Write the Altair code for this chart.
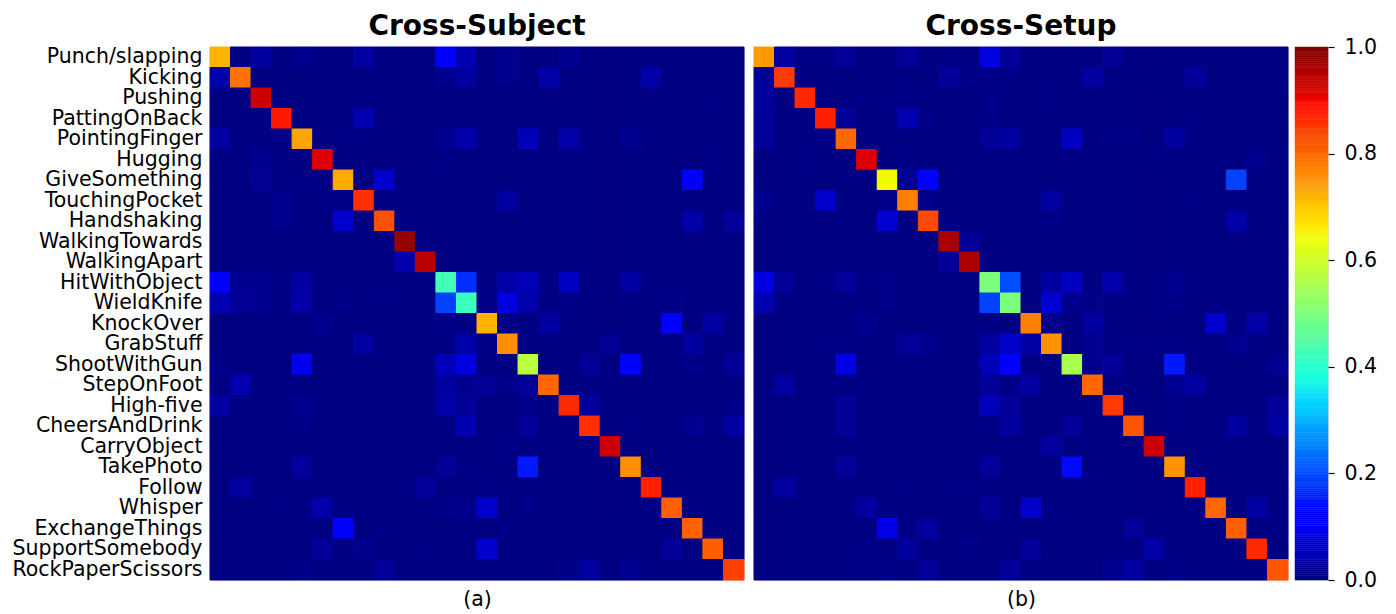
import altair as alt
import numpy as np
import pandas as pd

LABELS = ["Punch/slapping", "Kicking", "Pushing", "PattingOnBack", "PointingFinger",
          "Hugging", "GiveSomething", "TouchingPocket", "Handshaking", "WalkingTowards",
          "WalkingApart", "HitWithObject", "WieldKnife", "KnockOver", "GrabStuff",
          "ShootWithGun", "StepOnFoot", "High-five", "CheersAndDrink", "CarryObject",
          "TakePhoto", "Follow", "Whisper", "ExchangeThings", "SupportSomebody",
          "RockPaperScissors"]

# value of the unremarkable (darkest) cells
BACKGROUND = 0.003

CS_DIAG = [0.72, 0.79, 0.934, 0.885, 0.735, 0.916, 0.73, 0.86, 0.825, 0.978, 0.949,
           0.43, 0.42, 0.72, 0.76, 0.575, 0.80, 0.867, 0.86, 0.934, 0.76, 0.876,
           0.808, 0.805, 0.81, 0.842]

CSET_DIAG = [0.748, 0.85, 0.867, 0.876, 0.80, 0.919, 0.645, 0.775, 0.834, 0.963, 0.963,
             0.50, 0.50, 0.775, 0.753, 0.555, 0.80, 0.85, 0.82, 0.934, 0.753, 0.876,
             0.80, 0.808, 0.867, 0.82]

# (row, col, value) of the visible off-diagonal confusions
CS_OFF = [
    (0, 2, .028), (0, 4, .014), (0, 7, .028), (0, 11, .105), (0, 12, .042), (0, 14, .014), (0, 17, .014),
    (1, 0, .037), (1, 11, .014), (1, 12, .028), (1, 14, .014), (1, 16, .035), (1, 21, .035),
    (2, 24, .005),
    (3, 7, .042),
    (4, 0, .028), (4, 3, .007), (4, 6, .006), (4, 11, .014), (4, 12, .037), (4, 15, .049), (4, 17, .035),
    (4, 20, .014), (4, 25, .003),
    (5, 2, .014), (5, 11, .008), (5, 24, .008),
    (6, 2, .017), (6, 4, .008), (6, 8, .062), (6, 23, .11), (6, 24, .004),
    (7, 3, .014), (7, 5, .005), (7, 6, .008), (7, 14, .028), (7, 24, .004),
    (8, 3, .014), (8, 6, .062), (8, 23, .035), (8, 25, .019),
    (10, 9, .037),
    (11, 0, .11), (11, 1, .014), (11, 2, .014), (11, 3, .008), (11, 4, .028), (11, 12, .17), (11, 14, .035),
    (11, 15, .049), (11, 17, .056), (11, 20, .028), (11, 23, .004), (11, 25, .004),
    (12, 0, .042), (12, 1, .019), (12, 2, .014), (12, 4, .035), (12, 6, .008), (12, 8, .008), (12, 11, .19),
    (12, 13, .008), (12, 14, .081), (12, 15, .035), (12, 16, .004), (12, 17, .005), (12, 20, .004), (12, 22, .008),
    (13, 5, .014), (13, 11, .008), (13, 14, .008), (13, 16, .028), (13, 22, .11), (13, 24, .028),
    (14, 7, .028), (14, 11, .004), (14, 12, .035), (14, 13, .008), (14, 19, .019), (14, 23, .028),
    (15, 0, .008), (15, 4, .095), (15, 11, .049), (15, 12, .081), (15, 18, .019), (15, 20, .11), (15, 23, .008),
    (15, 25, .019),
    (16, 1, .042), (16, 11, .028), (16, 12, .014), (16, 13, .019), (16, 14, .008), (16, 15, .019),
    (17, 0, .028), (17, 4, .014), (17, 11, .035), (17, 12, .019), (17, 15, .008), (17, 18, .024), (17, 25, .008),
    (18, 4, .008), (18, 12, .042), (18, 15, .021), (18, 17, .004), (18, 20, .008), (18, 23, .014), (18, 25, .028),
    (19, 7, .004), (19, 10, .004), (19, 14, .008),
    (20, 4, .024), (20, 11, .019), (20, 12, .005), (20, 15, .15),
    (21, 1, .028), (21, 9, .004), (21, 10, .021), (21, 13, .008),
    (22, 3, .005), (22, 5, .035), (22, 11, .009), (22, 12, .009), (22, 13, .066), (22, 15, .008),
    (23, 6, .11), (23, 8, .008), (23, 14, .005), (23, 18, .005),
    (24, 5, .021), (24, 7, .014), (24, 10, .005), (24, 13, .066), (24, 22, .019),
    (25, 3, .004), (25, 4, .009), (25, 8, .019), (25, 17, .008), (25, 18, .028), (25, 20, .014),
]

CSET_OFF = [
    (0, 1, .028), (0, 2, .005), (0, 3, .008), (0, 4, .021), (0, 7, .021), (0, 9, .005), (0, 11, .081),
    (0, 12, .019), (0, 17, .019),
    (1, 0, .019), (1, 9, .021), (1, 10, .008), (1, 11, .008), (1, 12, .008), (1, 16, .028), (1, 19, .004),
    (1, 21, .024),
    (2, 0, .024), (2, 5, .005), (2, 6, .005), (2, 7, .008), (2, 11, .009), (2, 14, .008),
    (3, 0, .021), (3, 4, .021), (3, 7, .042), (3, 8, .008), (3, 11, .008), (3, 21, .008),
    (4, 0, .021), (4, 3, .005), (4, 6, .004), (4, 11, .019), (4, 12, .028), (4, 15, .056), (4, 17, .008),
    (4, 18, .008), (4, 20, .028),
    (5, 2, .005), (5, 7, .008), (5, 11, .004), (5, 19, .004), (5, 22, .005), (5, 24, .014),
    (6, 7, .019), (6, 8, .11), (6, 12, .004), (6, 23, .19), (6, 25, .004),
    (7, 0, .014), (7, 3, .062), (7, 6, .009), (7, 8, .008), (7, 14, .028), (7, 21, .005),
    (8, 6, .069), (8, 14, .005), (8, 23, .035), (8, 25, .004),
    (9, 10, .021),
    (10, 9, .021), (10, 21, .004),
    (11, 0, .081), (11, 1, .019), (11, 3, .008), (11, 4, .021), (11, 5, .008), (11, 6, .009), (11, 12, .2),
    (11, 14, .028), (11, 15, .056), (11, 17, .037), (11, 19, .005), (11, 20, .014),
    (12, 0, .042), (12, 6, .009), (12, 11, .19), (12, 14, .069), (12, 15, .014), (12, 16, .009), (12, 19, .005),
    (12, 20, .009), (12, 22, .005),
    (13, 5, .014), (13, 11, .004), (13, 14, .014), (13, 16, .028), (13, 22, .066), (13, 24, .035),
    (14, 3, .005), (14, 4, .005), (14, 7, .021), (14, 8, .014), (14, 11, .028), (14, 12, .062), (14, 13, .028),
    (14, 16, .014), (14, 18, .008), (14, 19, .005), (14, 20, .005), (14, 23, .014),
    (15, 4, .085), (15, 7, .005), (15, 11, .049), (15, 12, .11), (15, 16, .014), (15, 17, .021), (15, 20, .15),
    (15, 25, .014),
    (16, 1, .028), (16, 11, .021), (16, 12, .008), (16, 13, .028), (16, 20, .014), (16, 21, .028),
    (17, 4, .019), (17, 11, .049), (17, 12, .021), (17, 18, .005), (17, 20, .008), (17, 25, .021),
    (18, 4, .019), (18, 11, .005), (18, 12, .024), (18, 15, .019), (18, 17, .004), (18, 20, .008), (18, 23, .028),
    (18, 25, .028),
    (19, 7, .005), (19, 14, .028),
    (20, 4, .021), (20, 11, .021), (20, 15, .133),
    (21, 1, .028), (21, 7, .005), (21, 9, .005), (21, 10, .005), (21, 13, .004),
    (22, 5, .028), (22, 11, .019), (22, 13, .062), (22, 14, .008), (22, 24, .028),
    (23, 6, .09), (23, 7, .005), (23, 8, .024), (23, 18, .021),
    (24, 5, .005), (24, 7, .024), (24, 10, .008), (24, 13, .021), (24, 19, .035),
    (25, 4, .005), (25, 5, .005), (25, 6, .008), (25, 8, .019), (25, 12, .021), (25, 17, .014), (25, 18, .028),
    (25, 20, .008),
]

COLORBAR_TICKS = [0.0, 0.2, 0.4, 0.6, 0.8, 1.0]


def build_table(diag, off):
    n = len(LABELS)
    m = np.full((n, n), BACKGROUND)
    for i, v in enumerate(diag):
        m[i, i] = v
    for r, c, v in off:
        m[r, c] = v
    rows = []
    for r in range(n):
        for c in range(n):
            rows.append({"true": LABELS[r], "pred": LABELS[c], "v": float(m[r, c])})
    return pd.DataFrame(rows)


# matplotlib "jet" colormap as a piecewise-linear RGB scale
def _jet(v):
    r = np.interp(v, [0, 0.35, 0.66, 0.89, 1], [0, 0, 1, 1, 0.5])
    g = np.interp(v, [0, 0.125, 0.375, 0.64, 0.91, 1], [0, 0, 1, 1, 0, 0])
    b = np.interp(v, [0, 0.11, 0.34, 0.65, 1], [0.5, 1, 1, 0, 0])
    return "#%02x%02x%02x" % (round(r * 255), round(g * 255), round(b * 255))


JET_STOPS = [0, 0.11, 0.125, 0.34, 0.35, 0.375, 0.64, 0.65, 0.66, 0.89, 0.91, 1]
JET = alt.Scale(domain=JET_STOPS, range=[_jet(s) for s in JET_STOPS], interpolate="rgb", clamp=True)

FONT = "DejaVu Sans"
LBL = 20.5
W, H = 534, 533


def heatmap(df, title, sub, show_y):
    yaxis = alt.Axis(title=None, ticks=False, domain=False, grid=False, labelFontSize=LBL,
                     labelPadding=8, labelLimit=400, labelColor="black", labelFont=FONT) if show_y else None
    return alt.Chart(df).mark_rect(strokeWidth=1).encode(
        x=alt.X("pred:N", sort=LABELS, scale=alt.Scale(paddingInner=0, paddingOuter=0),
                axis=alt.Axis(labels=False, ticks=False, domain=False, grid=False, title=sub,
                              titleFontSize=LBL, titleFontWeight="normal", titlePadding=9,
                              titleColor="black", titleFont=FONT)),
        y=alt.Y("true:N", sort=LABELS, scale=alt.Scale(paddingInner=0, paddingOuter=0), axis=yaxis),
        color=alt.Color("v:Q", scale=JET, legend=None),
        stroke=alt.Stroke("v:Q", scale=JET, legend=None),
    ).properties(
        width=W, height=H,
        title=alt.TitleParams(title, fontSize=28, fontWeight="bold", font=FONT, color="black",
                              offset=6, anchor="middle"),
    )


cs = heatmap(build_table(CS_DIAG, CS_OFF), "Cross-Subject", "(a)", True)
cset = heatmap(build_table(CSET_DIAG, CSET_OFF), "Cross-Setup", "(b)", False)

# colour bar
edges = np.linspace(0, 1, 257)
cb_df = pd.DataFrame({"lo": edges[:-1], "hi": edges[1:], "mid": (edges[:-1] + edges[1:]) / 2})
colorbar = alt.Chart(cb_df).mark_rect(strokeWidth=0.5).encode(
    y=alt.Y("lo:Q", scale=alt.Scale(domain=[0, 1], nice=False, zero=False),
            axis=alt.Axis(orient="right", values=COLORBAR_TICKS, format=".1f", title=None,
                          labelFontSize=LBL, labelFont=FONT, labelColor="black", tickSize=6,
                          tickColor="black", tickWidth=1.2, domain=False, grid=False,
                          labelPadding=10)),
    y2="hi:Q",
    x=alt.value(0), x2=alt.value(33),
    color=alt.Color("mid:Q", scale=JET, legend=None),
    stroke=alt.Stroke("mid:Q", scale=JET, legend=None),
).properties(
    width=33, height=H,
    title=alt.TitleParams(" ", fontSize=28, fontWeight="bold", font=FONT, offset=6),
)

chart = alt.hconcat(
    alt.hconcat(cs, cset, spacing=8),
    colorbar,
    spacing=5,
).properties(
    padding={"left": 3, "top": -6, "right": 5, "bottom": 0},
).configure_view(stroke=None).configure(font=FONT, background="white")

chart.save("out.html", embed_options={"renderer": "svg", "actions": False})
